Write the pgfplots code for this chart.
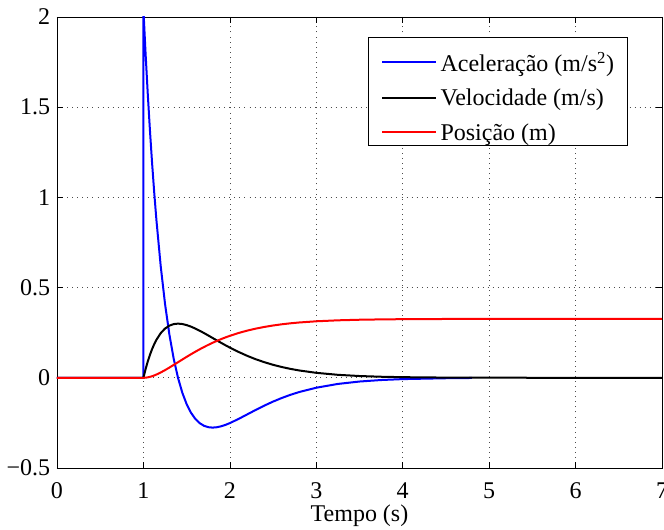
\documentclass[border=0pt]{standalone}
\usepackage{fontspec}
\setmainfont{Liberation Serif}
\usepackage{pgfplots}
\pgfplotsset{compat=1.18}
\definecolor{mblue}{RGB}{0,0,255}
\definecolor{mred}{RGB}{255,0,0}

\pgfplotstableread{
t a
0 0
1 0
1 2.04
1.025 1.7966
1.05 1.5753
1.075 1.3741
1.1 1.1916
1.125 1.0261
1.15 0.8763
1.2 0.6187
1.25 0.4095
1.3 0.2409
1.35 0.1063
1.4 0
1.45 -0.0828
1.5 -0.1461
1.55 -0.1934
1.6 -0.2276
1.65 -0.2511
1.7 -0.2659
1.75 -0.2738
1.8 -0.2761
1.85 -0.2740
1.9 -0.2688
1.95 -0.2609
2.0 -0.2512
2.1 -0.2282
2.2 -0.2031
2.3 -0.1780
2.4 -0.1540
2.5 -0.1319
2.6 -0.1121
2.7 -0.0945
2.8 -0.0793
3.0 -0.0550
3.25 -0.0340
3.5 -0.0207
3.75 -0.0124
4.0 -0.0073
4.5 -0.0025
4.8 -0.0010
}\acel

\pgfplotstableread{
t v
0 0
1 0
1.025 0.0479
1.05 0.0900
1.075 0.1268
1.1 0.1589
1.125 0.1866
1.15 0.2103
1.2 0.2475
1.25 0.2730
1.3 0.2891
1.35 0.2977
1.4 0.3002
1.45 0.2981
1.5 0.2922
1.55 0.2836
1.6 0.2731
1.65 0.2611
1.7 0.2482
1.75 0.2347
1.8 0.2208
1.85 0.2070
1.9 0.1935
1.95 0.1802
2.0 0.1674
2.1 0.1435
2.2 0.1219
2.3 0.1028
2.4 0.0863
2.5 0.0720
2.6 0.0598
2.7 0.0495
2.8 0.0408
3.0 0.0275
3.25 0.0165
3.5 0.0098
3.75 0.0058
4.0 0.0034
4.5 0.0011
5.0 0.0003
7.0 0
}\veloc

\pgfplotstableread{
t p
0 0
1 0
1.025 0.0006
1.05 0.0024
1.075 0.0051
1.1 0.0087
1.125 0.0130
1.15 0.0180
1.2 0.0295
1.25 0.0425
1.3 0.0566
1.35 0.0713
1.4 0.0862
1.45 0.1012
1.5 0.1160
1.55 0.1304
1.6 0.1443
1.65 0.1577
1.7 0.1704
1.75 0.1825
1.8 0.1939
1.85 0.2046
1.9 0.2146
1.95 0.2240
2.0 0.2326
2.1 0.2482
2.2 0.2614
2.3 0.2726
2.4 0.2820
2.5 0.2899
2.6 0.2965
2.7 0.3020
2.8 0.3065
3.0 0.3132
3.25 0.3186
3.5 0.3218
3.75 0.3237
4.0 0.3249
4.5 0.3260
5.0 0.3263
7.0 0.3264
}\posic

\begin{document}
\begin{tikzpicture}
\begin{axis}[
  width=453.75pt, height=338.25pt,
  scale only axis,
  xmin=0, xmax=7, ymin=-0.5, ymax=2,
  xtick={0,1,...,7},
  ytick={-0.5,0,0.5,1,1.5,2},
  yticklabels={−0.5,0,0.5,1,1.5,2},
  xticklabels={0,1,2,3,4,5,6,7},
  tick align=inside,
  major tick length=4.5pt,
  every tick/.style={black, line width=0.5pt},
  axis line style={line width=0.6pt},
  grid=major,
  grid style={black!70, line width=0.5pt, dash pattern=on 0.6pt off 3.2pt},
  tick label style={font=\fontsize{18}{21}\selectfont},
  xticklabel style={inner sep=0pt, anchor=north, yshift=-11pt},
  yticklabel style={inner sep=0pt, anchor=east, xshift=-5pt},
  xlabel={Tempo (s)},
  xlabel style={font=\fontsize{18}{21}\selectfont,
    at={(axis description cs:0.5,0)}, anchor=base, yshift=-40.5pt},
  legend cell align=left,
  legend style={at={(0.9437,0.9557)}, anchor=north east,
    draw=black, line width=0.6pt, fill=white,
    font=\fontsize{18}{21}\selectfont,
    inner xsep=8pt, inner ysep=0.25pt, row sep=-2pt,
    /tikz/every odd column/.append style={column sep=1pt}},
  legend image code/.code={\path (0pt,0pt) (0pt,18pt);
    \draw[#1, line width=1.5pt] (1.5pt,0.5pt) -- (41.5pt,0.5pt);},
]
\addplot[mblue, line width=1.5pt] table[x=t, y=a] {\acel};
\addplot[black, line width=1.5pt] table[x=t, y=v] {\veloc};
\addplot[mred, line width=1.5pt] table[x=t, y=p] {\posic};
\legend{Aceleração (m/s\textsuperscript{2}), Velocidade (m/s), Posição (m)}
\coordinate (sw) at (rel axis cs:0,0);
\coordinate (ne) at (rel axis cs:1,1);
\end{axis}
\path (sw) ++(-42.75pt,-46.5pt) coordinate (bl);
\path (ne) ++(1.5pt,12.75pt) coordinate (tr);
\pgfresetboundingbox
\path[use as bounding box] (bl) rectangle (tr);
\end{tikzpicture}
\end{document}
